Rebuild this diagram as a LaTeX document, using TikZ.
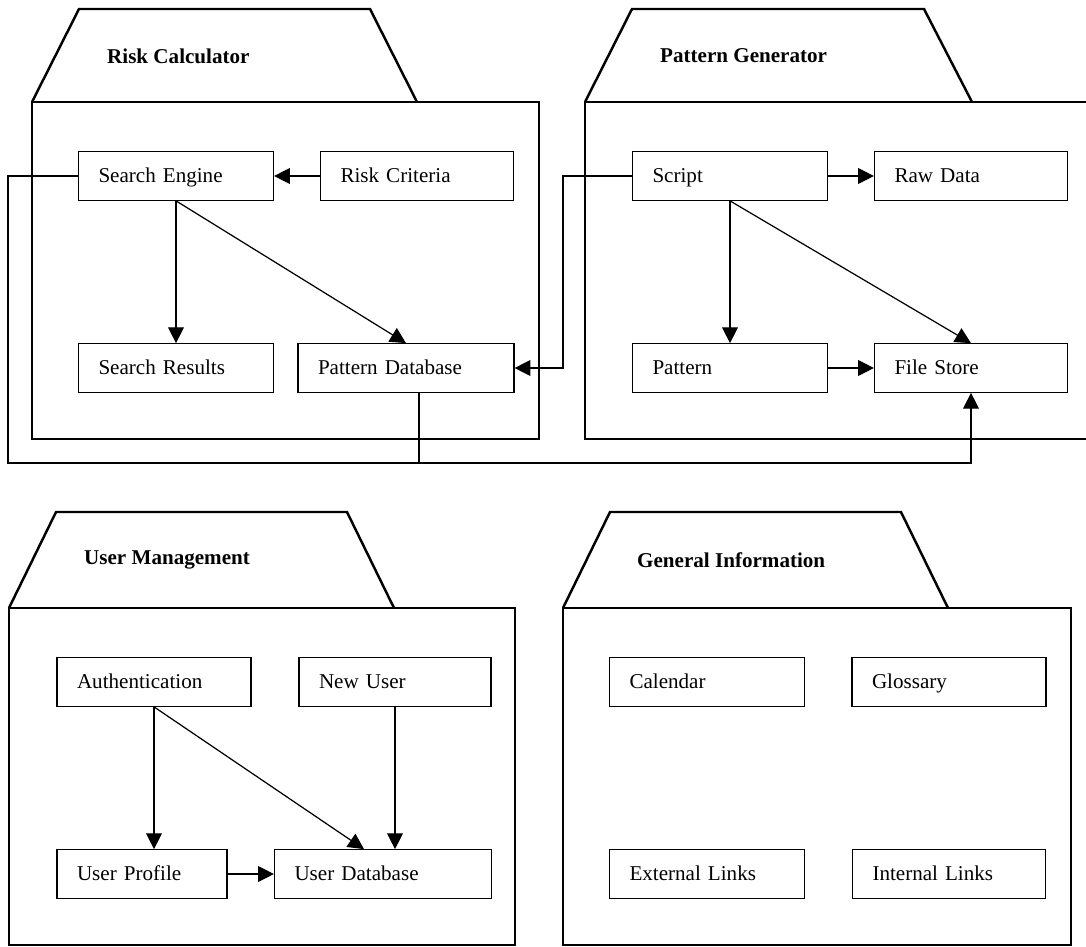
\documentclass[tikz,border=0pt]{standalone}
\usepackage{fontspec}
\setmainfont{Liberation Serif}
\usetikzlibrary{arrows.meta}

\begin{document}
\begin{tikzpicture}[x=0.02cm,y=-0.02cm,
  every node/.style={font=\fontsize{12}{14}\selectfont},
  comp/.style={draw,line width=.7pt,minimum height=.97cm,inner xsep=.4cm,text width=#1,
    text height=9.5pt,text depth=2pt,align=left},
  comp/.default=3.1cm,
  pkg/.style={line width=1.4pt,line join=miter},
  title/.style={anchor=west,font=\fontsize{12}{14}\selectfont\bfseries},
  flow/.style={line width=.7pt,-{Triangle[length=9pt,width=9pt]}},
  link/.style={line width=.7pt}]
\clip (0,0) rectangle (1086,947);
% package outlines
\draw[pkg] (32,102) -- (79,9) -- (370,9) -- (417,102);
\draw[pkg] (32,102) rectangle (539,439);
\draw[pkg] (585,102) -- (632,9) -- (924,9) -- (972,102);
\draw[pkg] (585,102) rectangle (1100,439);
\draw[pkg] (9,608) -- (56,512) -- (347,512) -- (394,608);
\draw[pkg] (9,608) rectangle (515,945);
\draw[pkg] (563,608) -- (610,512) -- (901,512) -- (948,608);
\draw[pkg] (563,608) rectangle (1071,945);
\node[title] (rctitle) at (101,56) {Risk Calculator};
\node[title] (pgtitle) at (654,56) {Pattern Generator};
\node[title] (umtitle) at (78,560) {User Management};
\node[title] (gititle) at (631,560) {General Information};
% components
\node[comp] (search) at (176,176) {Search Engine};
\node[comp=3.06cm] (criteria) at (417,176) {Risk Criteria};
\node[comp] (results) at (176,368) {Search Results};
\node[comp=3.52cm] (patdb) at (406,368) {Pattern Database};
\node[comp] (script) at (730,176) {Script};
\node[comp=3.06cm] (rawdata) at (971,176) {Raw Data};
\node[comp] (pattern) at (730,368) {Pattern};
\node[comp=3.06cm] (filestore) at (971,368) {File Store};
\node[comp=3.08cm] (auth) at (154,682) {Authentication};
\node[comp=3.04cm] (newuser) at (395,682) {New User};
\node[comp=2.6cm] (profile) at (142,874) {User Profile};
\node[comp=3.54cm] (userdb) at (383,874) {User Database};
\node[comp] (calendar) at (707,682) {Calendar};
\node[comp=3.08cm] (glossary) at (949,682) {Glossary};
\node[comp] (extlinks) at (707,874) {External Links};
\node[comp=3.06cm] (intlinks) at (949,874) {Internal Links};
% connectors
\draw[flow] (criteria) -- (search);
\draw[flow] (search) -- (results);
\draw[flow] (search.south) -- (patdb.north);
\coordinate (westbus) at (8,463);
\draw[flow] (search.west) -| (westbus) -| (filestore.south);
\coordinate (dbtap) at (419,463);
\draw[link] (dbtap |- patdb.south) -- (dbtap);
\coordinate (midbus) at (563,368);
\draw[flow] (script.west) -| (midbus) -- (patdb.east);
\draw[flow] (script) -- (rawdata);
\draw[flow] (script) -- (pattern);
\draw[flow] (script.south) -- (filestore.north);
\draw[flow] (pattern) -- (filestore);
\draw[flow] (auth.south) -- (auth.south |- profile.north);
\draw[flow] (auth.south) -- ([xshift=-.38cm]userdb.north);
\draw[flow] (newuser.south) -- (newuser.south |- userdb.north);
\draw[flow] (profile) -- (userdb);
\end{tikzpicture}
\end{document}
